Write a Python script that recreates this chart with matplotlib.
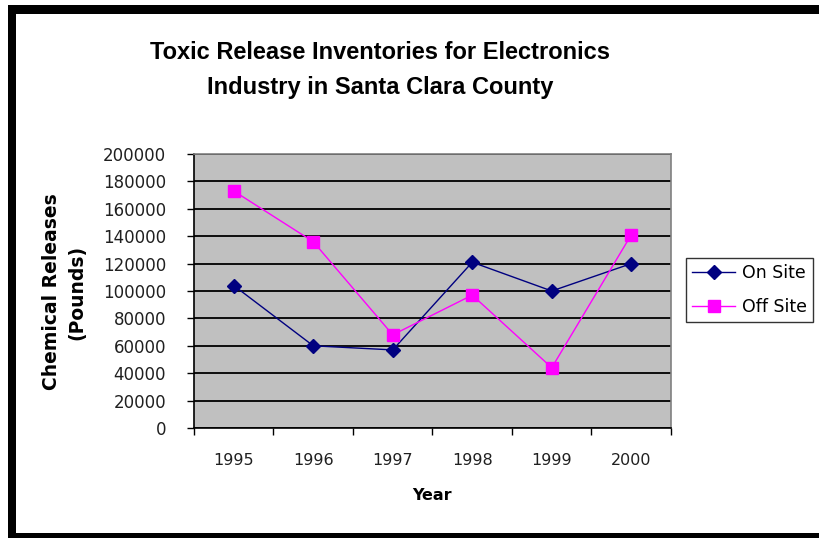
import matplotlib.pyplot as plt
import matplotlib.patches as mpatches
import numpy as np

# Data
years = ['1995', '1996', '1997', '1998', '1999', '2000']
on_site = [104000, 60000, 57000, 121000, 100000, 120000]
off_site = [173000, 136000, 68000, 97000, 44000, 141000]

plt.rcParams['font.family'] = ['DejaVu Sans']

fig = plt.figure(figsize=(8.2, 5.38), dpi=100)

# black frame around the chart (pixel coords converted to figure fractions)
fig.patches.append(mpatches.Rectangle((8 / 820, 0), 812 / 820, 533 / 538,
                                      transform=fig.transFigure, facecolor='black',
                                      edgecolor='none', zorder=-2))
fig.patches.append(mpatches.Rectangle((16 / 820, 5 / 538), 804 / 820, (533 - 14) / 538,
                                      transform=fig.transFigure, facecolor='white',
                                      edgecolor='none', zorder=-1))

ax = fig.add_axes([194 / 820, 1 - 428 / 538, (671 - 194) / 820, (428 - 154) / 538])
ax.set_facecolor('#C0C0C0')

x = np.arange(len(years))
ax.plot(x, on_site, color='#000080', marker='D', markersize=7, linewidth=1,
        label='On Site', zorder=3)
ax.plot(x, off_site, color='#FF00FF', marker='s', markersize=8, linewidth=1,
        label='Off Site', zorder=3)

ax.set_xlim(-0.5, len(years) - 0.5)
ax.set_ylim(0, 200000)
ax.set_yticks(np.arange(0, 200001, 20000))
ax.yaxis.grid(True, color='black', linewidth=1.3)
ax.set_axisbelow(True)

ax.set_xticks(np.arange(-0.5, len(years), 1))
ax.set_xticklabels([])
ax.set_xticks(x, minor=True)
ax.set_xticklabels(years, minor=True)
ax.tick_params(axis='x', which='major', direction='out', length=5, width=1)
ax.tick_params(axis='x', which='minor', length=0, pad=18, labelsize=11.5, labelcolor='#202020')
ax.tick_params(axis='y', direction='out', length=5, width=1, pad=15,
               labelsize=12, labelcolor='#202020')

for s in ['left', 'bottom']:
    ax.spines[s].set_color('black')
    ax.spines[s].set_linewidth(1.2)
for s in ['top', 'right']:
    ax.spines[s].set_color('#808080')
    ax.spines[s].set_linewidth(1.2)

fig.text(380 / 820, 1 - 70 / 538, 'Toxic Release Inventories for Electronics\nIndustry in Santa Clara County',
         ha='center', va='center', fontsize=17, fontweight='bold', linespacing=1.68,
         family='Liberation Sans')
fig.text(432 / 820, 1 - 495 / 538, 'Year', ha='center', va='center',
         fontsize=11.5, fontweight='bold')
fig.text(64 / 820, 1 - 292 / 538, 'Chemical Releases\n(Pounds)', ha='center', va='center',
         rotation=90, fontsize=13.5, fontweight='bold', linespacing=1.45)

leg = ax.legend(loc='center left', bbox_to_anchor=(686 / 820, 1 - 290 / 538),
                bbox_transform=fig.transFigure, frameon=True, fancybox=False,
                fontsize=12.5, handlelength=2.5, borderpad=0.35, labelspacing=0.9,
                handletextpad=0.35, borderaxespad=0)
leg.get_frame().set_edgecolor('black')
leg.get_frame().set_linewidth(1)

fig.savefig('out.png', dpi=100)
